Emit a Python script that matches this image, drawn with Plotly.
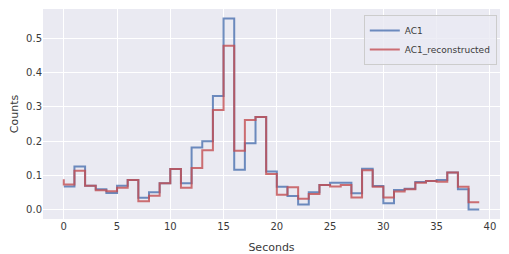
import plotly.graph_objects as go

seconds = list(range(40))
ac1 = [0.068, 0.068, 0.126, 0.070, 0.060, 0.049, 0.070, 0.087, 0.035, 0.051,
       0.077, 0.119, 0.077, 0.182, 0.200, 0.332, 0.558, 0.117, 0.194, 0.271,
       0.112, 0.067, 0.040, 0.015, 0.051, 0.072, 0.079, 0.079, 0.048, 0.120,
       0.069, 0.019, 0.058, 0.061, 0.081, 0.084, 0.087, 0.109, 0.060, 0.001]
ac1_rec = [0.089, 0.074, 0.114, 0.070, 0.057, 0.054, 0.064, 0.087, 0.025, 0.041,
           0.077, 0.119, 0.064, 0.122, 0.174, 0.291, 0.479, 0.172, 0.262, 0.271,
           0.104, 0.044, 0.066, 0.032, 0.046, 0.072, 0.068, 0.072, 0.036, 0.115,
           0.067, 0.036, 0.053, 0.060, 0.079, 0.084, 0.082, 0.109, 0.067, 0.022]
x_ticks = [0, 5, 10, 15, 20, 25, 30, 35, 40]
y_ticks = [0.0, 0.1, 0.2, 0.3, 0.4, 0.5]

font = "DejaVu Sans"
fig = go.Figure()
fig.add_trace(go.Scatter(x=seconds, y=ac1, mode="lines", name="AC1",
                         line=dict(color="#4C72B0", width=2, shape="vh"), opacity=0.8))
fig.add_trace(go.Scatter(x=seconds, y=ac1_rec, mode="lines", name="AC1_reconstructed",
                         line=dict(color="#C44E52", width=2, shape="vh"), opacity=0.8))

# page body has an 8px margin, so the figure is sized/offset to compensate
fig.update_layout(
    width=501, height=246,
    margin=dict(l=35, r=9, t=1, b=35, autoexpand=False),
    paper_bgcolor="white", plot_bgcolor="#EAEAF2",
    font=dict(family=font, size=10, color="#3a3a3a"),
    showlegend=True,
    legend=dict(x=0.993, y=0.972, xanchor="right", yanchor="top",
                bgcolor="rgba(234,234,242,0.8)", bordercolor="#CCCCCC", borderwidth=1,
                font=dict(size=9, color="#3a3a3a"), tracegroupgap=0,
                itemwidth=30),
)
fig.update_xaxes(range=[-1.95, 40.95], tickvals=x_ticks, showgrid=True, gridcolor="white",
                 gridwidth=1, zeroline=False, showline=False, ticks="", automargin=False,
                 title=dict(text="Seconds", font=dict(size=11)))
fig.update_yaxes(range=[-0.027, 0.586], tickvals=y_ticks, tickformat=".1f", showgrid=True,
                 gridcolor="white", gridwidth=1, zeroline=False, showline=False, ticks="",
                 automargin=False,
                 title=dict(text="Counts", font=dict(size=11)))

fig.write_html("out.html")
